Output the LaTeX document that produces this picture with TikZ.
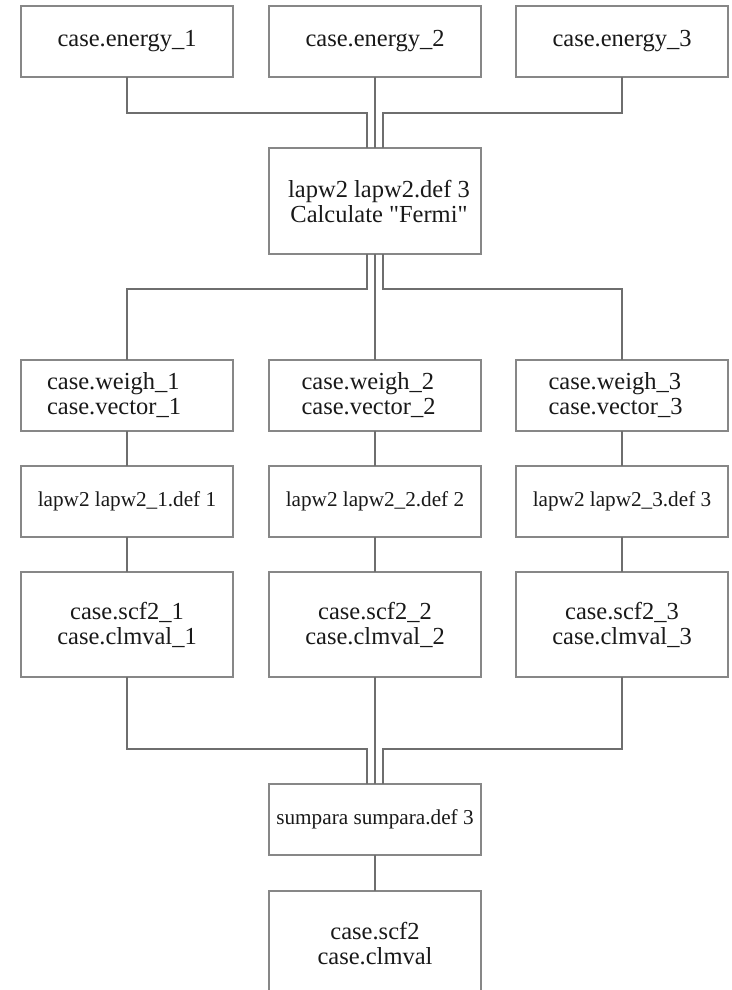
\documentclass[tikz,border=0pt]{standalone}
\usepackage{fontspec}
\setmainfont{Liberation Serif}[Ligatures=TeXOff]
\definecolor{boxgray}{RGB}{135,135,135}
\definecolor{linegray}{RGB}{110,110,110}
\definecolor{txt}{RGB}{25,25,25}
\begin{document}
\begin{tikzpicture}[x=1pt,y=-1pt,
  box/.style={draw=boxgray, line width=2pt, minimum width=212pt, inner sep=0pt,
    outer sep=0pt, align=center, text=txt, font=\fontsize{24.5}{25}\selectfont},
  smallbox/.style={box, font=\fontsize{21.2}{22}\selectfont},
  conn/.style={draw=linegray, line width=1.3pt}]
\useasboundingbox[fill=white] (0,0) rectangle (731,990);

% top row
\node[box, minimum height=71pt] (e1) at (127,41.5) {case.energy\_1};
\node[box, minimum height=71pt] (e2) at (375,41.5) {case.energy\_2};
\node[box, minimum height=71pt] (e3) at (622,41.5) {case.energy\_3};

% fermi
\node[box, minimum height=106pt] (F) at (375,201)
  {\hspace*{8pt}lapw2 lapw2.def 3\\\hspace*{8pt}Calculate "Fermi"};

% weigh row
\node[box, minimum height=71pt] (w1) at (127,395.5)
  {\makebox[160pt][l]{case.weigh\_1}\\\makebox[160pt][l]{case.vector\_1}};
\node[box, minimum height=71pt] (w2) at (375,395.5)
  {\makebox[147pt][l]{case.weigh\_2}\\\makebox[147pt][l]{case.vector\_2}};
\node[box, minimum height=71pt] (w3) at (622,395.5)
  {\makebox[147pt][l]{case.weigh\_3}\\\makebox[147pt][l]{case.vector\_3}};

% lapw2 row
\node[smallbox, minimum height=71pt] (l1) at (127,501.5) {lapw2 lapw2\_1.def 1};
\node[smallbox, minimum height=71pt] (l2) at (375,501.5) {lapw2 lapw2\_2.def 2};
\node[smallbox, minimum height=71pt] (l3) at (622,501.5) {lapw2 lapw2\_3.def 3};

% scf row
\node[box, minimum height=105pt] (s1) at (127,624.5) {case.scf2\_1\\case.clmval\_1};
\node[box, minimum height=105pt] (s2) at (375,624.5) {case.scf2\_2\\case.clmval\_2};
\node[box, minimum height=105pt] (s3) at (622,624.5) {case.scf2\_3\\case.clmval\_3};

% sumpara
\node[smallbox, minimum height=71pt] (S) at (375,819.5) {sumpara sumpara.def 3};

% final
\node[box, minimum height=105pt] (R) at (375,943.5) {case.scf2\\case.clmval};

% connectors top -> fermi
\draw[conn] (e1.south) -- ++(0,36) -| ([xshift=-8pt]F.north);
\draw[conn] (e2.south) -- (F.north);
\draw[conn] (e3.south) -- ++(0,36) -| ([xshift=8pt]F.north);

% fermi -> weigh
\draw[conn] ([xshift=-8pt]F.south) -- ++(0,35) -| (w1.north);
\draw[conn] (F.south) -- (w2.north);
\draw[conn] ([xshift=8pt]F.south) -- ++(0,35) -| (w3.north);

% weigh -> lapw2 -> scf
\draw[conn] (w1.south) -- (l1.north);
\draw[conn] (w2.south) -- (l2.north);
\draw[conn] (w3.south) -- (l3.north);
\draw[conn] (l1.south) -- (s1.north);
\draw[conn] (l2.south) -- (s2.north);
\draw[conn] (l3.south) -- (s3.north);

% scf -> sumpara
\draw[conn] (s1.south) -- ++(0,72) -| ([xshift=-8pt]S.north);
\draw[conn] (s2.south) -- (S.north);
\draw[conn] (s3.south) -- ++(0,72) -| ([xshift=8pt]S.north);

% sumpara -> final
\draw[conn] (S.south) -- (R.north);
\end{tikzpicture}
\end{document}
